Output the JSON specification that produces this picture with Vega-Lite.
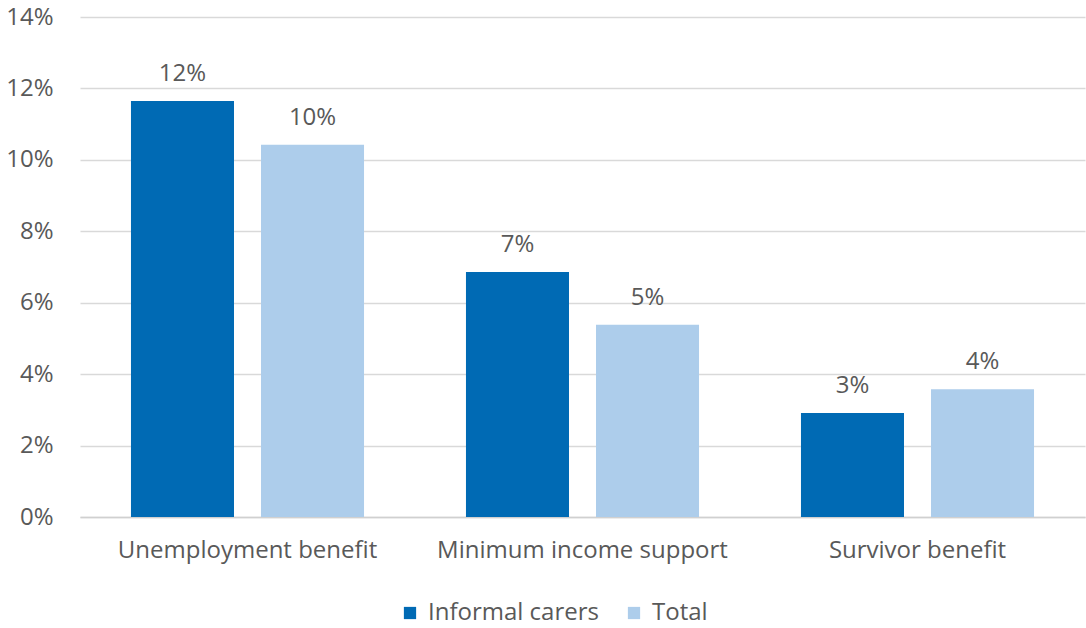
{
  "$schema": "https://vega.github.io/schema/vega-lite/v6.json",
  "width": 1005,
  "height": 500,
  "autosize": "none",
  "padding": {"left": 80, "top": 17, "right": 1, "bottom": 111},
  "background": "white",
  "config": {
    "font": "Open Sans",
    "view": {"stroke": null},
    "axis": {"labelFont": "Open Sans", "labelColor": "#595959", "labelFontSize": 24, "labelLimit": 0, "labelOverlap": false},
    "legend": {"labelFont": "Open Sans", "labelColor": "#595959", "labelFontSize": 24, "labelLimit": 0}
  },
  "data": {
    "values": [
      {"benefit": "Unemployment benefit", "group": "Informal carers", "value": 0.1165},
      {"benefit": "Unemployment benefit", "group": "Total", "value": 0.1042},
      {"benefit": "Minimum income support", "group": "Informal carers", "value": 0.0686},
      {"benefit": "Minimum income support", "group": "Total", "value": 0.0538},
      {"benefit": "Survivor benefit", "group": "Informal carers", "value": 0.0291},
      {"benefit": "Survivor benefit", "group": "Total", "value": 0.0358}
    ]
  },
  "encoding": {
    "x": {
      "field": "benefit", "type": "nominal", "sort": null,
      "scale": {"paddingInner": 0, "paddingOuter": 0},
      "axis": {"title": null, "labelAngle": 0, "ticks": false, "domain": true, "domainColor": "#d0d0d0", "domainWidth": 1.5, "labelPadding": 21, "labelBaseline": "top"}
    },
    "xOffset": {
      "field": "group", "type": "nominal", "sort": ["Informal carers", "Total"],
      "scale": {"paddingInner": 0.2077, "paddingOuter": 0.392}
    },
    "y": {
      "field": "value", "type": "quantitative",
      "scale": {"domain": [0, 0.14]},
      "axis": {"title": null, "format": ".0%", "values": [0, 0.02, 0.04, 0.06, 0.08, 0.1, 0.12, 0.14], "domain": false, "ticks": false, "gridColor": "#d9d9d9", "gridWidth": 1.3, "labelPadding": 27}
    }
  },
  "layer": [
    {
      "mark": {"type": "bar"},
      "encoding": {
        "color": {
          "field": "group", "type": "nominal", "sort": ["Informal carers", "Total"],
          "scale": {"domain": ["Informal carers", "Total"], "range": ["#006AB4", "#ADCDEB"]},
          "legend": {"title": null, "orient": "none", "legendX": 318, "legendY": 584, "direction": "horizontal", "symbolType": "square", "symbolSize": 150, "symbolStrokeWidth": 0, "columnPadding": 23, "labelOffset": 6}
        }
      }
    },
    {
      "mark": {"type": "text", "baseline": "bottom", "dy": -15, "fontSize": 24, "color": "#595959", "font": "Open Sans"},
      "encoding": {
        "text": {"field": "value", "type": "quantitative", "format": ".0%"}
      }
    }
  ]
}
